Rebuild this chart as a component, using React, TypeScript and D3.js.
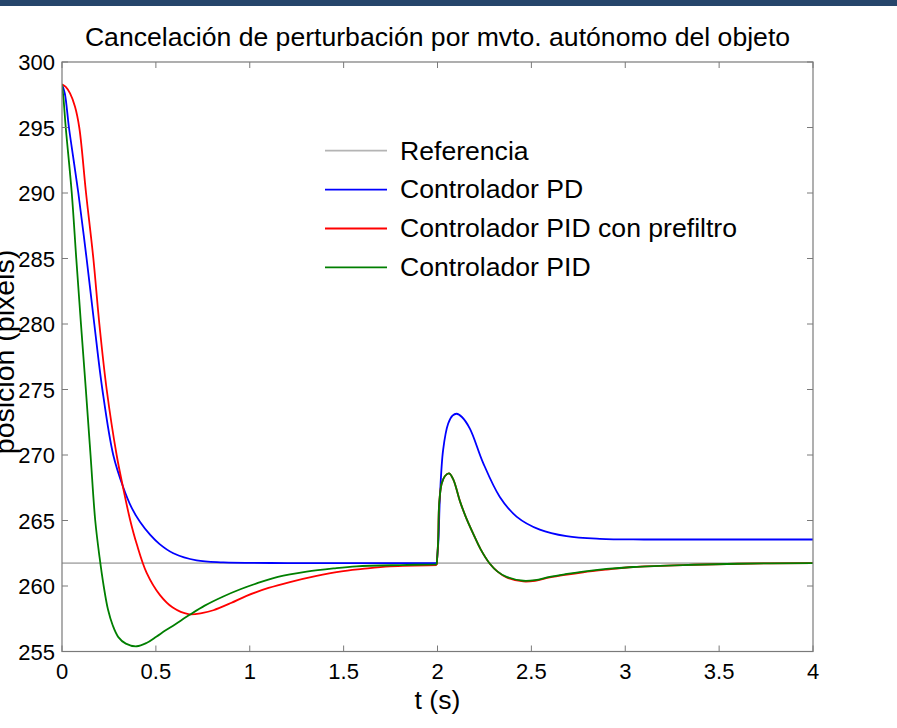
import React from "react";
import * as d3 from "d3";

const W = 897;
const H = 728;

const title = "Cancelación de perturbación por mvto. autónomo del objeto";
const xLabel = "t (s)";
const yLabel = "posición (pixels)";

const xTicks = [0, 0.5, 1, 1.5, 2, 2.5, 3, 3.5, 4];
const xTickLabels = ["0", "0.5", "1", "1.5", "2", "2.5", "3", "3.5", "4"];
const yTicks = [255, 260, 265, 270, 275, 280, 285, 290, 295, 300];
const yTickLabels = ["255", "260", "265", "270", "275", "280", "285", "290", "295", "300"];

const refValue = 261.75;
const jumpTime = 1.996;

const pdT = [0, 0.015, 0.037, 0.062, 0.087, 0.131, 0.172, 0.215, 0.273, 0.327, 0.37, 0.415, 0.47, 0.52, 0.593, 0.717, 0.859, 1.2, 1.6, 1.996, 2.005, 2.013, 2.03, 2.057, 2.08, 2.102, 2.13, 2.173, 2.243, 2.332, 2.421, 2.545, 2.687, 2.865, 3.1, 3.5, 4];
const pdV = [298.3, 297.6, 295, 292.5, 290, 285, 280, 275, 270, 267.5, 266, 264.9, 263.9, 263.2, 262.5, 261.95, 261.8, 261.75, 261.75, 261.75, 263.5, 266.8, 270.4, 272.4, 273, 273.15, 272.9, 272.0, 269.4, 266.8, 265.3, 264.3, 263.8, 263.6, 263.55, 263.55, 263.55];

const pidPreT = [0, 0.02, 0.043, 0.069, 0.092, 0.128, 0.167, 0.199, 0.238, 0.291, 0.327, 0.362, 0.398, 0.451, 0.522, 0.59, 0.673, 0.75, 0.806, 0.9, 0.983, 1.1, 1.214, 1.35, 1.48, 1.6, 1.747, 1.996, 2.003, 2.009, 2.022, 2.04, 2.062, 2.085, 2.119, 2.15, 2.19, 2.23, 2.279, 2.32, 2.368, 2.457, 2.52, 2.598, 2.68, 2.776, 2.9, 3.042, 3.308, 3.6, 4];
const pidPreV = [298.3, 298.1, 297.6, 296.6, 295, 290, 285, 280, 275, 270, 267.4, 265.1, 263.2, 261.0, 259.3, 258.35, 257.85, 257.95, 258.15, 258.7, 259.25, 259.85, 260.3, 260.75, 261.1, 261.3, 261.5, 261.6, 263.3, 266.3, 267.8, 268.4, 268.6, 268.1, 266.5, 265.3, 264, 262.8, 261.7, 261.1, 260.65, 260.35, 260.4, 260.65, 260.85, 261.05, 261.25, 261.45, 261.6, 261.7, 261.75];

const pidT = [0, 0.008, 0.02, 0.052, 0.076, 0.101, 0.127, 0.152, 0.177, 0.2, 0.222, 0.245, 0.27, 0.3, 0.34, 0.398, 0.45, 0.504, 0.55, 0.6, 0.68, 0.76, 0.859, 0.95, 1.037, 1.15, 1.303, 1.45, 1.569, 1.8, 1.996, 2.003, 2.009, 2.022, 2.04, 2.062, 2.085, 2.119, 2.15, 2.19, 2.23, 2.279, 2.32, 2.368, 2.457, 2.52, 2.598, 2.68, 2.776, 2.9, 3.042, 3.308, 3.6, 4];
const pidV = [298.3, 297.2, 295, 290, 285, 280, 275, 270, 265, 262.2, 260, 258.2, 257, 256.1, 255.6, 255.4, 255.65, 256.15, 256.6, 257.05, 257.8, 258.5, 259.2, 259.75, 260.2, 260.7, 261.1, 261.35, 261.5, 261.6, 261.65, 263.3, 266.3, 267.8, 268.4, 268.6, 268.1, 266.5, 265.3, 264, 262.8, 261.7, 261.1, 260.7, 260.4, 260.45, 260.7, 260.9, 261.1, 261.3, 261.45, 261.6, 261.7, 261.75];

const seriesNames = ["Referencia", "Controlador PD", "Controlador PID con prefiltro", "Controlador PID"];
const seriesColors = ["#b4b4b4", "#0000ff", "#ff0000", "#007f00"];

const FONT = "'Liberation Sans', Arial, Helvetica, sans-serif";

export default function App() {
  const left = 62, right = 813, top = 62, bottom = 651.5;
  const x = d3.scaleLinear().domain([0, 4]).range([left, right]);
  const y = d3.scaleLinear().domain([255, 300]).range([bottom, top]);
  const line = d3
    .line<[number, number]>()
    .x((d) => x(d[0]))
    .y((d) => y(d[1]))
    .curve(d3.curveCatmullRom.alpha(0.5));
  const zip = (t: number[], v: number[]) => t.map((tt, i) => [tt, v[i]] as [number, number]);
  // split at the disturbance instant so the step keeps its sharp corner
  const splitPath = (t: number[], v: number[]) => {
    const pts = zip(t, v);
    const before = pts.filter((p) => p[0] <= jumpTime);
    const after = pts.filter((p) => p[0] >= jumpTime);
    return (line(before) || "") + (line(after) || "");
  };
  const refPts: [number, number][] = [[0, refValue], [4, refValue]];
  const paths = [
    line(refPts) || "",
    splitPath(pdT, pdV),
    splitPath(pidPreT, pidPreV),
    splitPath(pidT, pidV),
  ];
  const axisColor = "#7a7a7a";
  const tickLen = 6;
  const legendX0 = 325, legendX1 = 387, legendTextX = 400;
  const legendY0 = 150.7, legendDy = 38.9;

  return (
    <svg
      width={W}
      height={H}
      style={{ position: "absolute", left: 0, top: 0, background: "#fff" }}
      fontFamily={FONT}
    >
      <rect x={0} y={0} width={W} height={6} fill="#26456b" />
      <text x={437.5} y={46} textAnchor="middle" fontSize={26.6} fill="#000">
        {title}
      </text>
      <defs>
        <clipPath id="plotclip">
          <rect x={left} y={top} width={right - left} height={bottom - top} />
        </clipPath>
      </defs>
      <g clipPath="url(#plotclip)">
        {paths.map((p, i) => (
          <path key={i} d={p} fill="none" stroke={seriesColors[i]} strokeWidth={1.8} strokeLinejoin="round" />
        ))}
      </g>
      <rect x={left} y={top} width={right - left} height={bottom - top} fill="none" stroke={axisColor} strokeWidth={1.2} />
      {xTicks.map((t, i) => (
        <g key={"xt" + i}>
          <line x1={x(t)} x2={x(t)} y1={bottom} y2={bottom - tickLen} stroke={axisColor} strokeWidth={1} />
          <line x1={x(t)} x2={x(t)} y1={top} y2={top + tickLen} stroke={axisColor} strokeWidth={1} />
          <text x={x(t)} y={679} textAnchor="middle" fontSize={22}>
            {xTickLabels[i]}
          </text>
        </g>
      ))}
      {yTicks.map((t, i) => (
        <g key={"yt" + i}>
          <line x1={left} x2={left + tickLen} y1={y(t)} y2={y(t)} stroke={axisColor} strokeWidth={1} />
          <line x1={right} x2={right - tickLen} y1={y(t)} y2={y(t)} stroke={axisColor} strokeWidth={1} />
          <text x={55} y={y(t) + 8} textAnchor="end" fontSize={22}>
            {yTickLabels[i]}
          </text>
        </g>
      ))}
      <text x={437.5} y={709} textAnchor="middle" fontSize={26.6}>
        {xLabel}
      </text>
      <text transform={`translate(14, 352) rotate(-90)`} textAnchor="middle" fontSize={28.5}>
        {yLabel}
      </text>
      {seriesNames.map((n, i) => {
        const ly = legendY0 + i * legendDy;
        return (
          <g key={"lg" + i}>
            <line x1={legendX0} x2={legendX1} y1={ly} y2={ly} stroke={seriesColors[i]} strokeWidth={1.8} />
            <text x={legendTextX} y={ly + 8.8} fontSize={26.6}>
              {n}
            </text>
          </g>
        );
      })}
    </svg>
  );
}
